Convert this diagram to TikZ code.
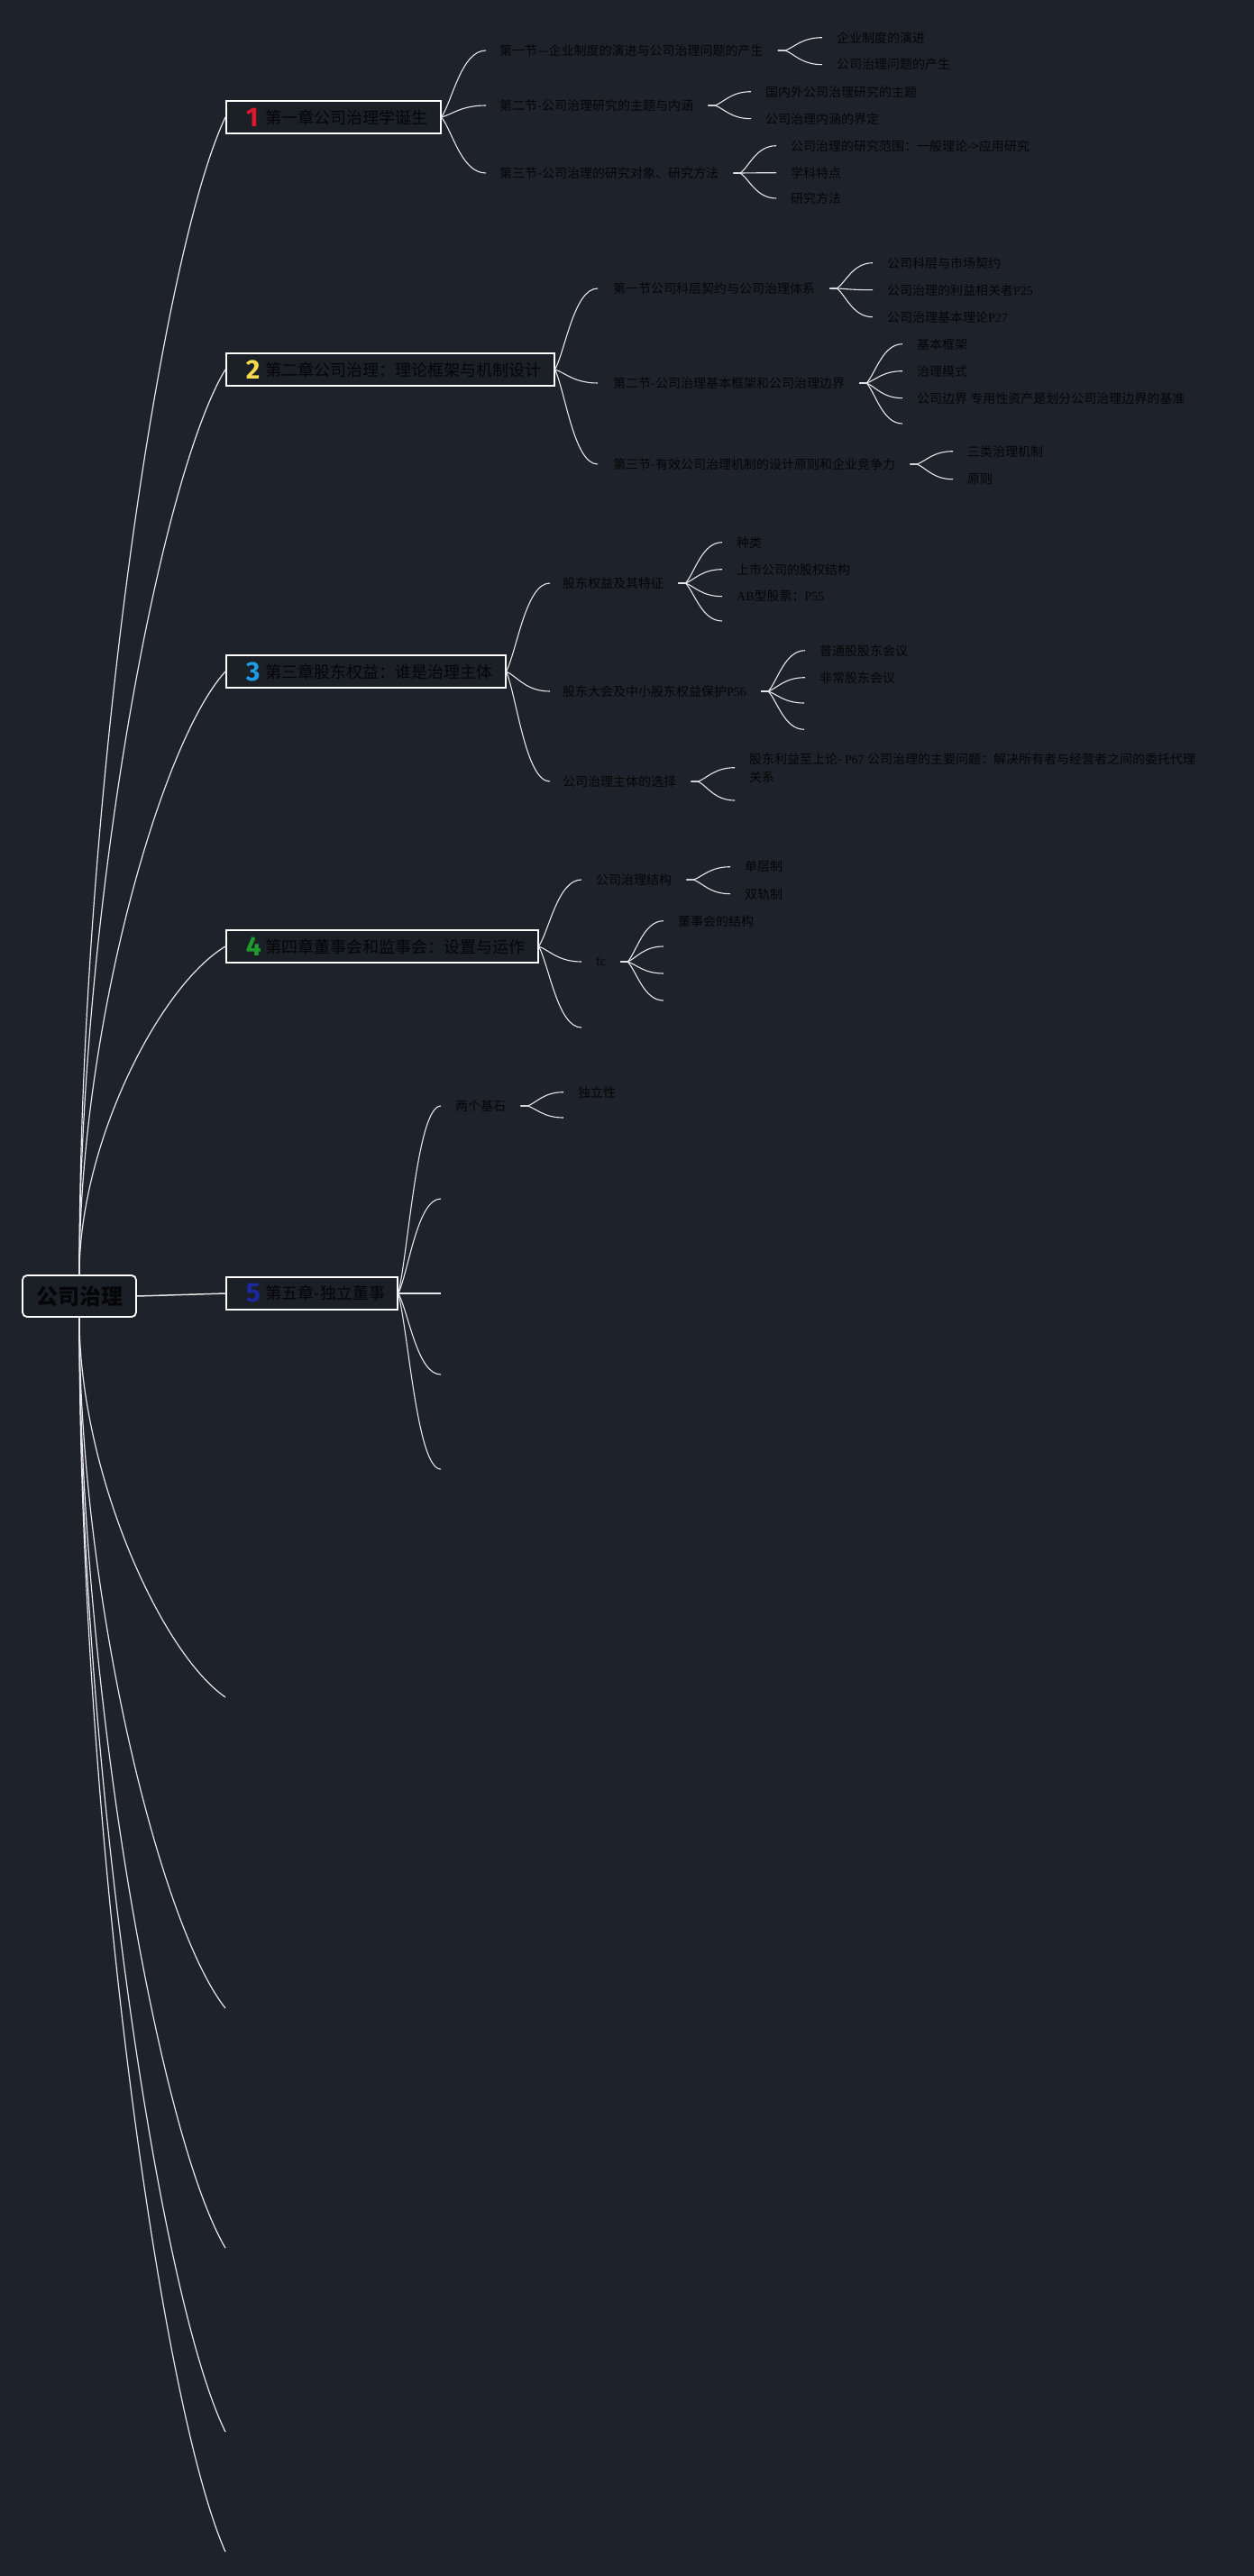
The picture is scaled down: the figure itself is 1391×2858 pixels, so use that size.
\documentclass[tikz,border=0pt]{standalone}
\usepackage{fontspec}
\setmainfont{Noto Sans CJK SC}
\newfontfamily\lat{Liberation Serif}
\newfontfamily\numfont{Fira Sans}
\usetikzlibrary{calc}
\definecolor{bg}{RGB}{30,34,42}
\definecolor{boxbg}{RGB}{27,31,38}
\definecolor{ink}{RGB}{6,6,8}
\definecolor{nA}{RGB}{220,24,45}
\definecolor{nB}{RGB}{245,218,80}
\definecolor{nC}{RGB}{30,155,225}
\definecolor{nD}{RGB}{30,155,45}
\definecolor{nE}{RGB}{28,40,160}
\definecolor{wire}{RGB}{232,232,236}
\newcommand\chnum[2]{\hspace*{8pt}\makebox[22pt][l]{\raisebox{-3pt}{\numfont\bfseries\fontsize{30}{30}\selectfont\color{#1}#2}}}
% root -> chapter curve
\newcommand\rcurve[2]{\draw[rootline] let \p1=(#1), \p2=(#2) in (\p1) .. controls (\x1,{\y1+0.4*(\y2-\y1)}) and ({\x2-0.45*(\x2-\x1)},{\y2-0.12*(\y2-\y1)}) .. (\p2);}
% chapter -> section curve
\newcommand\scurve[2]{\draw[conn] let \p1=(#1), \p2=#2 in (\p1) .. controls ({\x1+0.25*(\x2-\x1)},{\y1+0.25*(\y2-\y1)}) and ({\x1+0.45*(\x2-\x1)},\y2) .. (\p2);}
% section -> leaf curve (with stub)
\newcommand\kcurve[2]{\draw[conn] let \p1=($(#1.east)+(16,0)$), \p3=($(#1.east)+(24,0)$), \p2=#2 in (\p1) -- (\p3) .. controls ({\x3+0.25*(\x2-\x3)},{\y3+0.25*(\y2-\y3)}) and ({\x3+0.45*(\x2-\x3)},\y2) .. (\p2);}
\begin{document}
\begin{tikzpicture}[x=1pt,y=-1pt,
  conn/.style={draw=wire, line width=1.1pt},
  rootline/.style={draw=wire, line width=1.2pt},
  txt/.style={anchor=west, inner sep=0pt, text=ink, font=\fontsize{14}{20}\selectfont},
  chap/.style={draw=white, line width=1.6pt, fill=boxbg, anchor=west, minimum height=36pt, inner xsep=14pt, inner ysep=0pt, text=ink, font=\fontsize{18}{20}\selectfont},
  rootbox/.style={draw=white, line width=1.8pt, rounded corners=5pt, fill=boxbg, minimum width=126pt, minimum height=46pt, inner sep=0pt, text=ink, font=\fontsize{24}{26}\selectfont\bfseries}
]
\fill[bg] (0,0) rectangle (1391,2858);
\useasboundingbox (0,0) rectangle (1391,2858);

% root and chapters
\node[rootbox] (root) at (88,1438) {公司治理};
\node[chap] (c1) at (250,130) {\chnum{nA}{1}第一章公司治理学诞生};
\node[chap] (c2) at (250,410) {\chnum{nB}{2}第二章公司治理：理论框架与机制设计};
\node[chap] (c3) at (250,745) {\chnum{nC}{3}第三章股东权益：谁是治理主体};
\node[chap] (c4) at (250,1050) {\chnum{nD}{4}第四章董事会和监事会：设置与运作};
\node[chap] (c5) at (250,1435) {\chnum{nE}{5}第五章-独立董事};
\coordinate (b1) at (250,1883);
\coordinate (b2) at (250,2228);
\coordinate (b3) at (250,2494);
\coordinate (b4) at (250,2698);
\coordinate (b5) at (250,2831);

% chapter 1
\node[txt] (s11) at (554,56) {第一节—企业制度的演进与公司治理问题的产生};
\node[txt] (s12) at (554,117) {第二节-公司治理研究的主题与内涵};
\node[txt] (s13) at (554,192) {第三节-公司治理的研究对象、研究方法};
\node[txt] (l111) at (928,41.7) {企业制度的演进};
\node[txt] (l112) at (928,71.7) {公司治理问题的产生};
\node[txt] (l121) at (849,101.7) {国内外公司治理研究的主题};
\node[txt] (l122) at (849,131.7) {公司治理内涵的界定};
\node[txt] (l131) at (877,161.7) {公司治理的研究范围：一般理论->应用研究};
\node[txt] (l132) at (877,191.7) {学科特点};
\node[txt] (l133) at (877,220) {研究方法};

% chapter 2
\node[txt] (s21) at (680,320) {第一节公司科层契约与公司治理体系};
\node[txt] (s22) at (680,425) {第二节-公司治理基本框架和公司治理边界};
\node[txt] (s23) at (680,515) {第三节-有效公司治理机制的设计原则和企业竞争力};
\node[txt] (l211) at (984,291.7) {公司科层与市场契约};
\node[txt] (l212) at (984,321.7) {公司治理的利益相关者{\lat P25}};
\node[txt] (l213) at (984,351.7) {公司治理基本理论{\lat P27}};
\node[txt] (l221) at (1017,381.7) {基本框架};
\node[txt] (l222) at (1017,411.7) {治理模式};
\node[txt] (l223) at (1017,441.7) {公司边界 专用性资产是划分公司治理边界的基准};
\coordinate (e224) at (1001,470);
\node[txt] (l231) at (1073,500.7) {三类治理机制};
\node[txt] (l232) at (1073,531.7) {原则};

% chapter 3
\node[txt] (s31) at (624,647) {股东权益及其特征};
\node[txt] (s32) at (624,767) {股东大会及中小股东权益保护{\lat P56}};
\node[txt] (s33) at (624,867) {公司治理主体的选择};
\node[txt] (l311) at (817,601.7) {种类};
\node[txt] (l312) at (817,631.7) {上市公司的股权结构};
\node[txt] (l313) at (817,661.7) {{\lat AB}型股票：{\lat P55}};
\coordinate (e314) at (801,689);
\node[txt] (l321) at (909,721.7) {普通股股东会议};
\node[txt] (l322) at (909,751.7) {非常股东会议};
\coordinate (e323) at (892,780);
\coordinate (e324) at (892,809.3);
\node[txt, align=left] (l331) at (831,851.7) {股东利益至上论- {\lat P67} 公司治理的主要问题：解决所有者与经营者之间的委托代理\\关系};
\coordinate (e332) at (815,888);

% chapter 4
\node[txt] (s41) at (661,976) {公司治理结构};
\node[txt] (s42) at (661,1067) {\lat fc};
\coordinate (e43) at (645,1140);
\node[txt] (l411) at (826,961.7) {单层制};
\node[txt] (l412) at (826,991.7) {双轨制};
\node[txt] (l421) at (752,1021.7) {董事会的结构};
\coordinate (e422) at (736,1050);
\coordinate (e423) at (736,1080);
\coordinate (e424) at (736,1110);

% chapter 5
\node[txt] (s51) at (505,1227) {两个基石};
\coordinate (e52) at (489,1330);
\coordinate (e53) at (489,1435);
\coordinate (e54) at (489,1525);
\coordinate (e55) at (489,1630);
\node[txt] (l511) at (641,1211.7) {独立性};
\coordinate (e512) at (625,1240);

% root connectors
\rcurve{root.north}{c1.west}
\rcurve{root.north}{c2.west}
\rcurve{root.north}{c3.west}
\rcurve{root.north}{c4.west}
\draw[rootline, draw=white!80!gray, line width=1.5pt] (root.east) -- (c5.west);
\rcurve{root.south}{b1}
\rcurve{root.south}{b2}
\rcurve{root.south}{b3}
\rcurve{root.south}{b4}
\rcurve{root.south}{b5}

% chapter -> section
\scurve{c1.east}{($(s11.west)+(-15,0)$)}
\scurve{c1.east}{($(s12.west)+(-15,0)$)}
\scurve{c1.east}{($(s13.west)+(-15,0)$)}
\scurve{c2.east}{($(s21.west)+(-17,0)$)}
\scurve{c2.east}{($(s22.west)+(-17,0)$)}
\scurve{c2.east}{($(s23.west)+(-17,0)$)}
\scurve{c3.east}{($(s31.west)+(-14,0)$)}
\scurve{c3.east}{($(s32.west)+(-14,0)$)}
\scurve{c3.east}{($(s33.west)+(-14,0)$)}
\scurve{c4.east}{($(s41.west)+(-16,0)$)}
\scurve{c4.east}{($(s42.west)+(-16,0)$)}
\scurve{c4.east}{(e43)}
\scurve{c5.east}{($(s51.west)+(-16,0)$)}
\scurve{c5.east}{(e52)}
\scurve{c5.east}{(e53)}
\scurve{c5.east}{(e54)}
\scurve{c5.east}{(e55)}

% section -> leaf
\kcurve{s11}{($(l111.west)+(-16,0)$)}
\kcurve{s11}{($(l112.west)+(-16,0)$)}
\kcurve{s12}{($(l121.west)+(-16,0)$)}
\kcurve{s12}{($(l122.west)+(-16,0)$)}
\kcurve{s13}{($(l131.west)+(-16,0)$)}
\kcurve{s13}{($(l132.west)+(-16,0)$)}
\kcurve{s13}{($(l133.west)+(-16,0)$)}
\kcurve{s21}{($(l211.west)+(-16,0)$)}
\kcurve{s21}{($(l212.west)+(-16,0)$)}
\kcurve{s21}{($(l213.west)+(-16,0)$)}
\kcurve{s22}{($(l221.west)+(-16,0)$)}
\kcurve{s22}{($(l222.west)+(-16,0)$)}
\kcurve{s22}{($(l223.west)+(-16,0)$)}
\kcurve{s22}{(e224)}
\kcurve{s23}{($(l231.west)+(-16,0)$)}
\kcurve{s23}{($(l232.west)+(-16,0)$)}
\kcurve{s31}{($(l311.west)+(-16,0)$)}
\kcurve{s31}{($(l312.west)+(-16,0)$)}
\kcurve{s31}{($(l313.west)+(-16,0)$)}
\kcurve{s31}{(e314)}
\kcurve{s32}{($(l321.west)+(-16,0)$)}
\kcurve{s32}{($(l322.west)+(-16,0)$)}
\kcurve{s32}{(e323)}
\kcurve{s32}{(e324)}
\kcurve{s33}{($(l331.west)+(-16,0)$)}
\kcurve{s33}{(e332)}
\kcurve{s41}{($(l411.west)+(-16,0)$)}
\kcurve{s41}{($(l412.west)+(-16,0)$)}
\kcurve{s42}{($(l421.west)+(-16,0)$)}
\kcurve{s42}{(e422)}
\kcurve{s42}{(e423)}
\kcurve{s42}{(e424)}
\kcurve{s51}{($(l511.west)+(-16,0)$)}
\kcurve{s51}{(e512)}
\end{tikzpicture}
\end{document}
